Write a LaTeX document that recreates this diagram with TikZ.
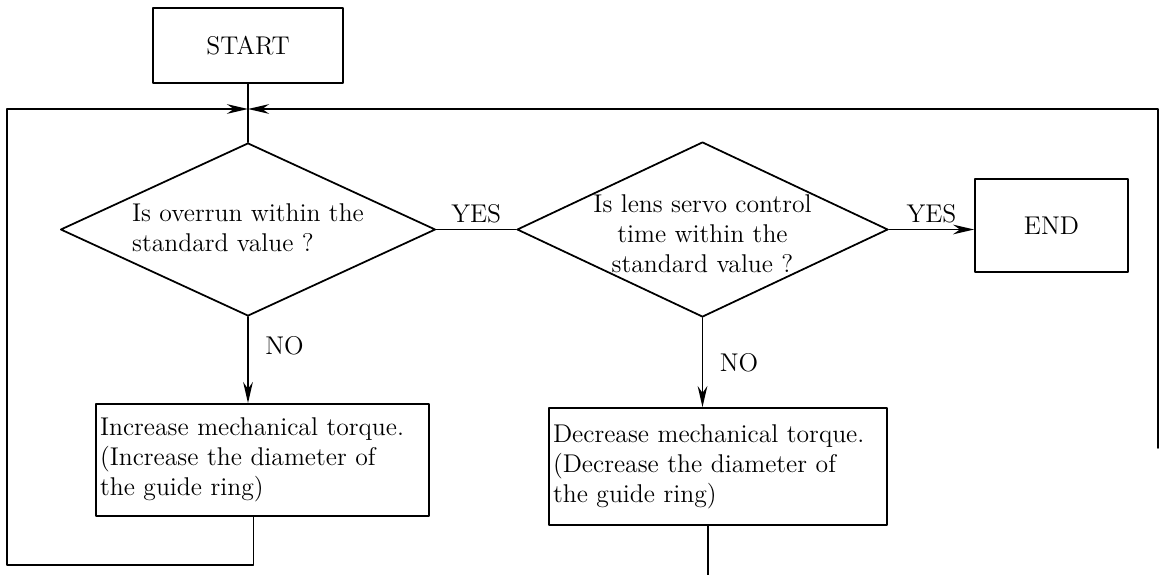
\documentclass[tikz,border=0pt]{standalone}
\usepackage{fontspec}
\usetikzlibrary{arrows.meta,positioning,shapes.geometric}

\begin{document}
\begin{tikzpicture}[x=0.02cm, y=-0.02cm, >={Stealth[length=12pt, width=5.5pt]}, line cap=round, line join=round,
  line width=1pt, font=\fontsize{14.6}{17}\selectfont,
  box/.style={draw, line width=1pt, inner xsep=2.5pt, inner ysep=0pt},
  decision/.style={draw, diamond, aspect=2.15, line width=1pt, inner sep=0pt}]

\useasboundingbox (0,0) rectangle (1161,575);

\node[box, minimum width=3.8cm, minimum height=1.5cm] (start) at (248,45.5) {START};
\coordinate (join) at (248,109);

\node[decision, minimum width=7.5cm, minimum height=3.46cm] (overrun) at (248,229.5)
  {\raisebox{-4.3pt}[0pt][0pt]{\begin{tabular}{@{}l@{}}Is overrun within the\\ standard value ?\end{tabular}}};
\node[decision, minimum width=7.42cm, minimum height=3.5cm] (servo) at (702.5,229.5)
  {\raisebox{-7.7pt}[0pt][0pt]{\begin{tabular}{@{}c@{}}Is lens servo control\\ time within the\\ standard value ?\end{tabular}}};
\node[box, minimum width=3.06cm, minimum height=1.86cm] (finish) at (1051.5,225.5) {END};

\node[box, text width=6.5cm, align=left, minimum height=2.24cm] (increase) at (262.5,460)
  {Increase mechanical torque.\\ (Increase the diameter of\\ the guide ring)};
\node[box, text width=6.6cm, align=left, minimum height=2.34cm] (decrease) at (718,466.5)
  {Decrease mechanical torque.\\ (Decrease the diameter of\\ the guide ring)};

\coordinate (lowleft) at (7,565);
\coordinate (rightend) at (1158,448);
\coordinate (decend) at (708,575);

% main flow
\draw (start.south) -- (overrun.north);
\draw (overrun.east) -- (servo.west) node[midway, above] {YES};
\draw[->] (servo.east) -- (servo.east -| finish.west) node[midway, above] {YES};
\draw[->] (overrun.south) -- (overrun.south |- increase.north) node[pos=0.33, right=6pt] {NO};
\draw[->] (servo.south) -- (servo.south |- decrease.north) node[midway, right=6pt] {NO};

% loops back
\draw[->] ([xshift=-0.18cm]increase.south) |- (lowleft) |- (join);
\draw[->] (rightend) |- (join);
\draw (decrease.south -| decend) -- (decend);

\end{tikzpicture}
\end{document}
